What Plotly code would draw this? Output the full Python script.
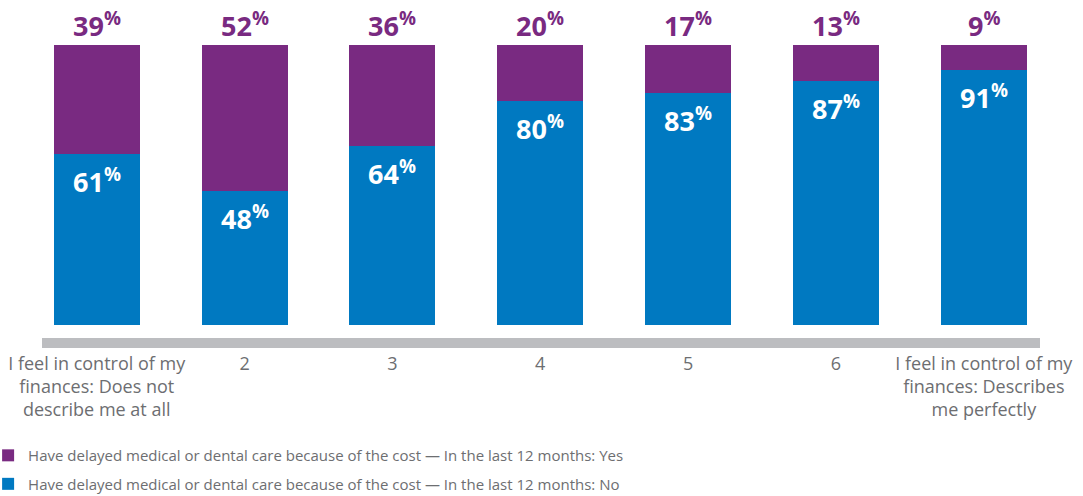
import plotly.graph_objects as go

categories = ["I feel in control of my<br>finances: Does not<br>describe me at all", "2", "3", "4", "5", "6",
              "I feel in control of my<br>finances: Describes<br>me perfectly"]
yes_values = [39, 52, 36, 20, 17, 13, 9]
no_values = [61, 48, 64, 80, 83, 87, 91]
yes_name = "Have delayed medical or dental care because of the cost — In the last 12 months: Yes"
no_name = "Have delayed medical or dental care because of the cost — In the last 12 months: No"

PURPLE = "#792A81"
BLUE = "#0079C1"
GRAY_TEXT = "#6D6E71"
FONT = "Open Sans"

x_idx = list(range(len(categories)))

fig = go.Figure()
fig.add_trace(go.Bar(x=x_idx, y=no_values, name=no_name, marker=dict(color=BLUE, line=dict(width=0)),
                     legendgroup="no", legendrank=2))
fig.add_trace(go.Bar(x=x_idx, y=yes_values, name=yes_name, marker=dict(color=PURPLE, line=dict(width=0)),
                     legendgroup="yes", legendrank=1))

annotations = []
for i, (n, y) in enumerate(zip(no_values, yes_values)):
    annotations.append(dict(x=i, y=n, xref="x", yref="y", yanchor="top", yshift=-5,
                            text=f"<b>{n}<sup>%</sup></b>", showarrow=False,
                            font=dict(family=FONT, size=27, color="white")))
    annotations.append(dict(x=i, y=n + y, xref="x", yref="y", yanchor="bottom", yshift=-1,
                            text=f"<b>{y}<sup>%</sup></b>", showarrow=False,
                            font=dict(family=FONT, size=27, color=PURPLE)))

fig.update_layout(
    barmode="stack",
    bargap=0.418,
    width=1083, height=496,
    margin=dict(l=42, r=43, t=45, b=158, autoexpand=False),
    paper_bgcolor="white", plot_bgcolor="white",
    showlegend=True,
    legend=dict(orientation="v", traceorder="grouped", tracegroupgap=6,
                xref="paper", yref="paper", x=-0.054, y=-0.345, xanchor="left", yanchor="top",
                font=dict(family=FONT, size=15, color=GRAY_TEXT), itemwidth=30,
                bgcolor="rgba(0,0,0,0)"),
    annotations=annotations,
    font=dict(family=FONT, color=GRAY_TEXT),
)
fig.update_xaxes(range=[-0.37, 6.38], tickmode="array", tickvals=x_idx, ticktext=categories,
                 tickangle=0, automargin=False,
                 showline=True, linewidth=10, linecolor="#BCBDC0", showgrid=False, zeroline=False,
                 ticks="", tickfont=dict(family=FONT, size=18, color=GRAY_TEXT))
fig.update_yaxes(range=[-4.64, 100], visible=False, showgrid=False, zeroline=False)

fig.write_html("out.html", config={"displayModeBar": False},
               post_script="document.body.style.margin='0';")
